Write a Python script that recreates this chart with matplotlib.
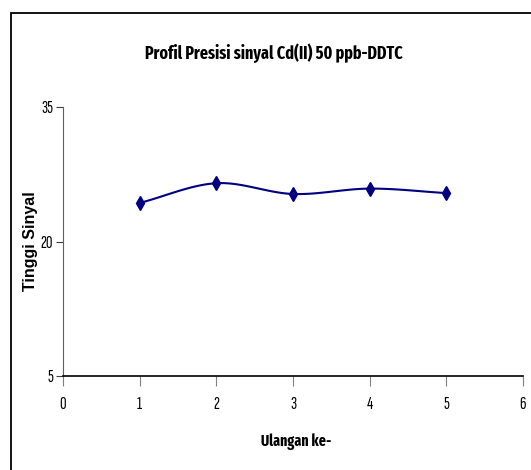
import numpy as np
import matplotlib.pyplot as plt
from matplotlib.patches import Rectangle

ulangan = [1, 2, 3, 4, 5]
tinggi = [24.3, 26.5, 25.3, 25.9, 25.4]
x_ticks = [0, 1, 2, 3, 4, 5, 6]
y_ticks = [5, 20, 35]

narrow_bold = ['Fira Sans Extra Condensed', 'Roboto Condensed', 'Liberation Sans', 'DejaVu Sans']
narrow = ['Sofia Sans Extra Condensed', 'Fira Sans Extra Condensed', 'Liberation Sans', 'DejaVu Sans']
plain = ['Liberation Sans', 'DejaVu Sans']


def smooth(xs, ys, n=30):
    # Catmull-Rom curve through the points, like Excel's smoothed line
    xs = np.asarray(xs, float)
    ys = np.asarray(ys, float)
    px = np.concatenate([[2 * xs[0] - xs[1]], xs, [2 * xs[-1] - xs[-2]]])
    py = np.concatenate([[2 * ys[0] - ys[1]], ys, [2 * ys[-1] - ys[-2]]])
    out_x, out_y = [], []
    t = np.linspace(0, 1, n)
    for i in range(1, len(px) - 2):
        for arr, out in ((px, out_x), (py, out_y)):
            p0, p1, p2, p3 = arr[i - 1], arr[i], arr[i + 1], arr[i + 2]
            seg = 0.5 * ((2 * p1) + (-p0 + p2) * t
                         + (2 * p0 - 5 * p1 + 4 * p2 - p3) * t ** 2
                         + (-p0 + 3 * p1 - 3 * p2 + p3) * t ** 3)
            out.extend(seg)
    return out_x, out_y


fig = plt.figure(figsize=(5.31, 4.70), dpi=100)
ax = fig.add_axes([63 / 531, 1 - 376 / 470, (523 - 63) / 531, (376 - 107) / 470])

sx, sy = smooth(ulangan, tinggi)
ax.plot(sx, sy, color='#000080', lw=1.5)
ax.plot(ulangan, tinggi, ls='none', marker='d', ms=7, color='#000080')

ax.set_xlim(0, 6)
ax.set_ylim(5, 35)
ax.set_xticks(x_ticks)
ax.set_yticks(y_ticks)
for lab in ax.get_xticklabels() + ax.get_yticklabels():
    lab.set_family(narrow)
    lab.set_fontsize(13)
ax.tick_params(axis='x', direction='out', length=7, color='#808080', pad=8)
ax.tick_params(axis='y', direction='out', length=5, color='#404040', pad=2)
ax.spines['top'].set_visible(False)
ax.spines['right'].set_visible(False)
ax.spines['left'].set_color('#606060')
ax.spines['bottom'].set_linewidth(1.2)

fig.text(296 / 531, 1 - 442 / 470, 'Ulangan ke-', ha='center', va='center',
         family=narrow_bold, fontweight='bold', fontsize=11)
fig.text(31 / 531, 1 - 241 / 470, 'Tinggi Sinyal', rotation=90, ha='center', va='center',
         family=plain, fontweight='bold', fontsize=11.5)
fig.text(274 / 531, 1 - 53 / 470, 'Profil Presisi sinyal Cd(II) 50 ppb-DDTC', ha='center', va='center',
         family=narrow_bold, fontweight='bold', fontsize=12.5)

fig.patches.append(Rectangle((11 / 531, -0.1), 1.2, 1 - 13 / 470 + 0.1, transform=fig.transFigure,
                             fill=False, edgecolor='black', lw=1.3))

fig.savefig('out.png', dpi=100)
